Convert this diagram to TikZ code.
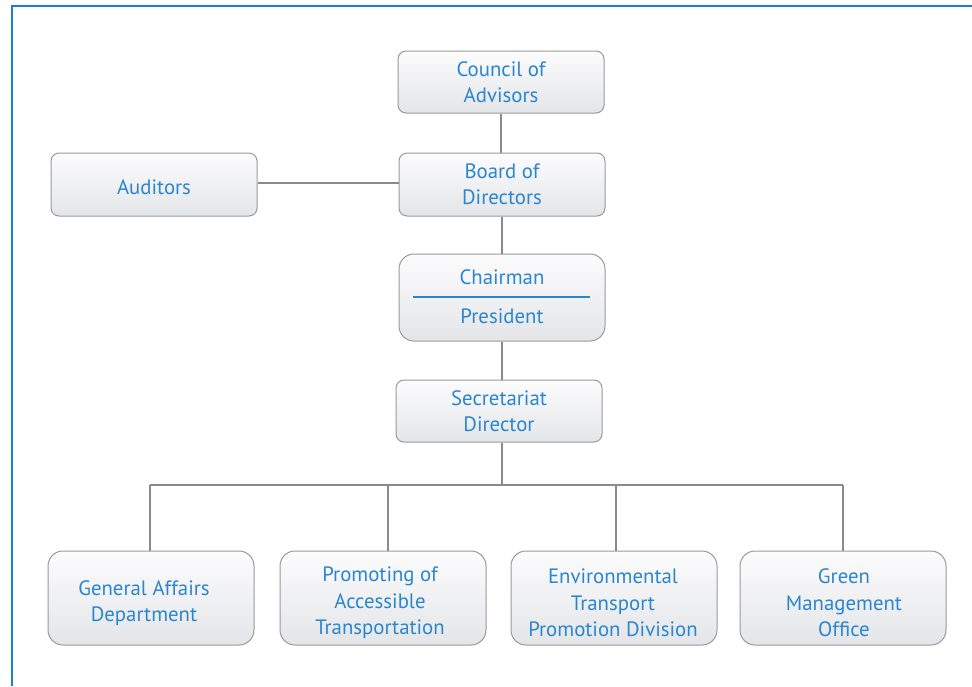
\documentclass[tikz,border=0pt]{standalone}
\usepackage{fontspec}
\setmainfont{PT Sans}
\usetikzlibrary{positioning}
\definecolor{txtblue}{HTML}{2A86CF}
\definecolor{frameblue}{HTML}{1A7FD4}
\definecolor{boxline}{HTML}{9A9A9A}
\definecolor{boxtop}{HTML}{FCFCFD}
\definecolor{boxbot}{HTML}{E4E5E8}
\definecolor{conn}{HTML}{8A8A8A}
\tikzset{
  txtlab/.style={text=txtblue, align=center, inner sep=0pt,
    font=\fontsize{20.8}{26.5}\selectfont},
  orgbox/.style={draw=boxline, line width=1pt, rounded corners=8pt,
    top color=boxtop, bottom color=boxbot, minimum width=206pt,
    txtlab},
  bigbox/.style={orgbox, rounded corners=15pt},
  conline/.style={draw=conn, line width=1.2pt}
}
\begin{document}
\begin{tikzpicture}[x=1pt,y=-1pt]
\useasboundingbox (0,0) rectangle (972,686);
\fill[white] (0,0) rectangle (972,686);
\draw[frameblue, line width=2pt] (12,686) -- (12,6) -- (972,6);
% nodes
\node[orgbox, minimum height=62pt] (council) at (501,82) {Council of\\Advisors};
\node[orgbox, minimum height=63pt] (board) at (502,184.5) {Board of\\Directors};
\node[orgbox, minimum height=63pt] (aud) at (154,184.5) {};
\node[txtlab] (audt) at (154,187) {Auditors};
\node[bigbox, minimum height=87pt] (chair) at (502,297.5) {};
\node[txtlab] (chairt) at (502,277) {Chairman};
\node[txtlab] (prest) at (502,316) {President};
\coordinate (dl) at (413,297);
\coordinate (dr) at (590,297);
\draw[txtblue, line width=1.2pt] (dl) -- (dr);
\node[orgbox, minimum height=62pt] (sec) at (499,411) {Secretariat\\Director};
\node[bigbox, minimum height=94pt] (ga) at (151,598) {};
\node[bigbox, minimum height=94pt] (pa) at (383,598) {};
\node[bigbox, minimum height=94pt] (et) at (614,598) {};
\node[bigbox, minimum height=94pt] (gm) at (843,598) {};
\node[txtlab] (gat) at (144,603) {General Affairs\\Department};
\node[txtlab] (pat) at (380,603) {Promoting of\\Accessible\\Transportation};
\node[txtlab] (ett) at (613,603) {Environmental\\Transport\\Promotion Division};
\node[txtlab] (gmt) at (844,603) {Green\\Management\\Office};
% connectors
\coordinate (bus) at (502,485);
\coordinate (b1) at (150,485);
\coordinate (b2) at (388,485);
\coordinate (b3) at (616,485);
\coordinate (b4) at (843,485);
\draw[conline] (council.south) -- (council.south |- board.north);
\draw[conline] (aud.east |- 0,183) -- (board.west |- 0,183);
\draw[conline] (board.south) -- (board.south |- chair.north);
\draw[conline] (chair.south) -- (chair.south |- sec.north);
\draw[conline] (sec.south -| bus) -- (bus);
\draw[conline] (b1) -- (b4);
\draw[conline] (b1) -- (b1 |- ga.north);
\draw[conline] (b2) -- (b2 |- pa.north);
\draw[conline] (b3) -- (b3 |- et.north);
\draw[conline] (b4) -- (b4 |- gm.north);
\end{tikzpicture}
\end{document}
